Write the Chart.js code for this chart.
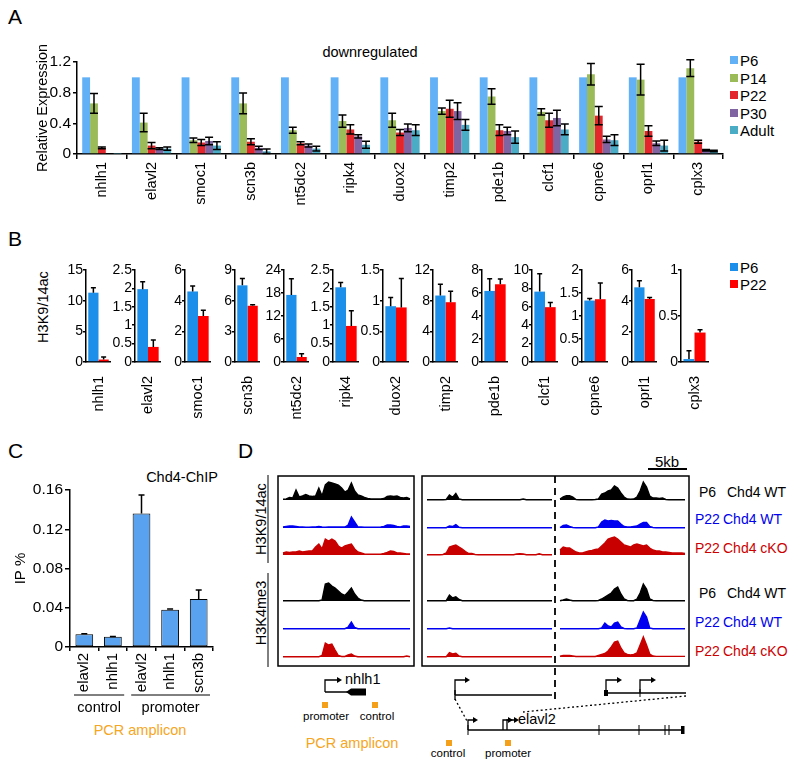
<!DOCTYPE html>
<html><head><meta charset="utf-8">
<script src="https://cdn.jsdelivr.net/npm/chart.js@4.4.1/dist/chart.umd.min.js"></script>
<style>
html,body{margin:0;padding:0;background:#fff;}
#fig{position:relative;width:800px;height:766px;overflow:hidden;font-family:"Liberation Sans",Arial,sans-serif;color:#000;background:#fff;}
#fig canvas{position:absolute;}
.t{position:absolute;white-space:nowrap;line-height:1;}
.sq{position:absolute;width:8px;height:8px;}
</style></head><body><div id="fig"></div>
<script>
// ================= DATA =================
// Panel A: relative expression (qPCR), mean and error
const genes = ['nhlh1','elavl2','smoc1','scn3b','nt5dc2','ripk4','duox2','timp2','pde1b','clcf1','cpne6','oprl1','cplx3'];
const stagesA = ['P6','P14','P22','P30','Adult'];
const exprP6    = [1,1,1,1,1,1,1,1,1,1,1,1,1];
const exprP14   = [0.66,0.41,0.18,0.66,0.31,0.43,0.44,0.56,0.75,0.55,1.04,0.97,1.12];
const exprP22   = [0.08,0.11,0.15,0.16,0.14,0.32,0.28,0.59,0.31,0.44,0.50,0.30,0.16];
const exprP30   = [0.01,0.07,0.17,0.08,0.11,0.23,0.34,0.56,0.30,0.47,0.19,0.14,0.05];
const exprAdult = [0.005,0.07,0.11,0.035,0.07,0.12,0.31,0.38,0.22,0.32,0.18,0.11,0.04];
const errP6     = [0,0,0,0,0,0,0,0,0,0,0,0,0];
const errP14    = [0.13,0.12,0.03,0.135,0.04,0.08,0.09,0.04,0.10,0.04,0.14,0.20,0.11];
const errP22    = [0.01,0.04,0.04,0.04,0.02,0.06,0.04,0.11,0.07,0.09,0.12,0.07,0.02];
const errP30    = [0,0.01,0.05,0.02,0.02,0.02,0.05,0.11,0.05,0.10,0.04,0.03,0.01];
const errAdult  = [0,0.02,0.05,0.03,0.03,0.045,0.07,0.07,0.08,0.07,0.07,0.07,0.01];
const ticksA    = [0,0.4,0.8,1.2];

// Panel B: H3K9/14ac ChIP, P6 vs P22
const stagesB   = ['P6','P22'];
const acP6      = [11.3,1.98,4.6,7.5,17.5,2.03,0.91,8.67,6.18,7.65,1.336,4.87,0.032];
const acP6Err   = [0.8,0.2,0.36,0.68,4.2,0.13,0.14,1.47,1.07,1.95,0.045,0.43,0.09];
const acP22     = [0.4,0.41,3.0,5.5,1.3,0.98,0.89,7.8,6.76,5.96,1.365,4.11,0.32];
const acP22Err  = [0.4,0.19,0.37,0.1,0.87,0.41,0.47,1.43,0.46,0.5,0.35,0.09,0.03];
const ticksB = [[0,5,10,15],[0,0.5,1,1.5,2,2.5],[0,2,4,6],[0,3,6,9],[0,6,12,18,24],[0,0.5,1,1.5,2,2.5],
                [0,0.5,1,1.5],[0,4,8,12],[0,2,4,6,8],[0,2,4,6,8,10],[0,0.5,1,1.5,2],[0,2,4,6],[0,0.5,1]];

// Panel C: Chd4 ChIP
const chipLabels = ['elavl2','nhlh1','elavl2','nhlh1','scn3b'];
const chipValues = [0.013,0.0105,0.136,0.038,0.049];
const chipErr    = [0.0006,0.0003,0.019,0.0008,0.009];
const chipGroups = ['control','promoter'];
const chipGroupSizes = [2,3];
const ticksC = [0,0.04,0.08,0.12,0.16];

// Panel D: browser track heights (40 bins per region)
const trackSamples = ['P6 Chd4 WT','P22 Chd4 WT','P22 Chd4 cKO'];
const trackMarks = ['H3K9/14ac','H3K4me3'];
const acP6_nhlh1   = [0.7,1,2.5,2,10,3,4,5.5,4,3.5,4,12,4,15,18,17,16,15,12,8,10,17,9,5,4,2.5,1.5,1,1,1,1,1.5,3.5,4,3.5,4,2.5,2,2.5,1];
const acWT_nhlh1   = [1,1.5,2,2,1.5,1,1,0.7,0.7,1,1,1.5,1,0.7,1,1,1,1,1,1,3,11,6,1,1,0.7,0.7,0.7,0.7,0.7,1,1.5,3,3,2.5,1.5,1,2,2,1.5];
const acKO_nhlh1   = [2,3,2.5,3,3,4,3,3.5,4,4,8,11,6,16,14,16,14,9,7,9,10,11,6,3,2,1,0.7,0.7,0.7,0.7,0.7,1.5,2.5,4,3.5,2,2,1.5,1,1];
const meP6_nhlh1   = [0.3,0.3,0.3,0.3,0.3,0.3,0.3,0.3,0.3,0.3,0.3,0.3,1,17,18,15,13,10,7,5.5,9,13,7,3,1,0.3,0.3,0.3,0.3,0.3,0.3,0.3,0.3,0.3,0.3,0.3,0.3,0.3,0.3,0.3];
const meWT_nhlh1   = [0.3,0.3,0.3,0.3,0.3,0.3,0.3,0.3,0.3,0.3,0.3,0.3,0.3,0.3,0.3,0.3,0.3,0.3,0.3,0.3,2,7,1.5,0.3,0.3,0.3,0.3,0.3,0.3,0.3,0.3,0.3,0.3,0.3,0.3,0.3,0.3,0.3,0.3,0.3];
const meKO_nhlh1   = [0.3,0.3,0.3,0.3,0.3,0.3,0.3,0.3,0.3,0.3,0.3,0.3,1.5,14,12,13,7,1.5,0.5,0.5,2,3,1,0.3,0.3,0.3,0.3,0.3,0.3,0.3,0.3,0.3,0.3,0.3,0.3,0.3,0.3,0.3,1,0.3];
const acP6_elavl2A = [0.3,0.3,0.3,0.3,0.3,0.3,0.5,5,2.7,6.5,1,0.3,0.3,0.3,0.3,0.3,0.3,0.3,0.3,0.3,0.3,0.3,0.3,0.3,0.3,0.3,0.3,0.3,0.3,0.3,1,0.3,0.3,0.3,0.3,0.3,0.3,0.3,0.3,0.3];
const acWT_elavl2A = [0.3,0.3,0.3,0.3,0.3,0.3,0.3,2,1.5,3.5,0.7,0.3,0.3,0.3,0.3,0.3,0.3,0.3,0.3,0.3,0.3,0.3,0.3,0.3,0.3,0.3,0.3,0.3,0.3,0.3,0.3,0.3,0.3,0.3,0.3,0.3,0.3,0.3,0.3,0.3];
const acKO_elavl2A = [0.3,0.3,0.3,0.3,0.3,0.5,2,8,9,10,8,6,3.5,1.5,1.5,0.5,0.3,0.3,0.3,0.3,0.3,0.3,0.3,0.3,0.3,0.3,0.3,0.3,1,1.3,1,0.3,0.3,0.3,0.3,1.2,0.3,0.3,0.3,0.3];
const meP6_elavl2A = [0.3,0.3,0.3,0.3,0.3,0.3,0.3,6,3,4.3,1.5,0.3,0.3,0.3,0.3,0.3,0.3,0.3,0.3,0.3,0.3,0.3,0.3,0.3,0.3,0.3,0.3,0.3,0.3,0.3,0.3,0.3,0.3,0.3,0.3,0.3,0.3,0.3,0.3,0.3];
const meWT_elavl2A = [0.3,0.3,0.3,0.3,0.3,0.3,0.3,1,0.3,0.3,0.3,0.3,0.3,0.3,0.3,0.3,0.3,0.3,0.3,0.3,0.3,0.3,0.3,0.3,0.3,0.3,0.3,0.3,0.3,0.3,0.3,0.3,0.3,0.3,0.3,0.3,0.3,0.3,0.3,0.3];
const meKO_elavl2A = [0.3,0.3,0.3,0.3,0.3,0.3,0.3,4.3,3,3.7,1,0.3,0.3,0.3,0.3,0.3,0.3,0.3,0.3,0.3,0.3,0.3,0.3,0.3,0.3,0.3,0.3,0.3,0.3,0.3,0.3,0.3,0.3,0.3,0.3,0.3,0.3,0.3,0.3,0.3];
const acP6_elavl2B = [1,3,4.3,4.3,3,0.5,0.3,0.3,0.3,0.3,0.3,0.5,1,6,7,9,10,14,12,7,3,1,0.7,1,3,9,18,13,4,2,2,1.5,2,0.5,0.3,0.3,0.3,0.3,0.3,0.3];
const acWT_elavl2B = [0.5,2.5,3,1.5,0.5,0.3,0.3,0.3,0.3,0.3,0.3,0.3,1,6,8,7,7.5,7,7,4,1.5,1,1,1.5,2,4,5.5,5.5,1.5,0.5,0.3,0.3,0.3,0.3,0.3,0.3,0.3,0.3,0.3,0.3];
const acKO_elavl2B = [5,8,7,7,5,3,2,2,3,4,4.5,5.5,6,9,12,16,17,18,16,13,10,9,8,10,11,10,9,10,7,5,4,4,3,3,2.5,2,2,2,2,1.5];
const meP6_elavl2B = [0.3,1,2,1,0.3,0.3,0.3,0.3,0.3,0.3,0.3,0.3,0.5,2,4,6,8,12,14,7,2,0.5,0.3,0.3,2,8,17,12,2,0.5,0.3,0.3,0.3,0.3,0.3,0.3,0.3,0.3,0.3,0.3];
const meWT_elavl2B = [0.3,0.3,0.3,0.3,0.3,0.3,0.3,0.3,0.3,0.3,0.3,0.3,0.3,1,6,3,2,6,7,2,0.5,0.3,0.3,0.3,1,9,17,12,1,0.3,0.3,0.3,0.3,0.3,0.3,0.3,0.3,0.3,0.3,0.3];
const meKO_elavl2B = [0.7,1.5,1.5,1.5,1,0.5,0.5,0.5,0.5,0.5,0.5,0.5,1.5,2.5,3.5,6,10,15,16,9,4,2.5,2,2.5,4,12,20,12,3,1,0.6,0.6,0.6,0.6,0.6,0.6,0.6,0.6,0.6,0.6];

// ================= HELPERS =================
const FONT = '"Liberation Sans", Arial, sans-serif';
Chart.defaults.font.family = FONT;
Chart.defaults.color = '#000';
const fig = document.getElementById('fig');
function makeCanvas(left, top, w, h){
  const c = document.createElement('canvas');
  c.width = w; c.height = h;
  c.style.left = left+'px'; c.style.top = top+'px';
  c.style.width = w+'px'; c.style.height = h+'px';
  fig.appendChild(c); return c;
}
function text(str, x, y, o){
  o = o || {};
  const d = document.createElement('div'); d.className = 't'; d.textContent = str;
  d.style.fontSize = (o.size||14.5)+'px'; d.style.color = o.color||'#000';
  d.style.left = x+'px'; d.style.top = y+'px';
  let tr = o.anchor==='left' ? 'translate(0,-50%)' : (o.anchor==='right' ? 'translate(-100%,-50%)' : 'translate(-50%,-50%)');
  if (o.rotate) tr += ' rotate(-90deg)';
  d.style.transform = tr;
  fig.appendChild(d); return d;
}
function legend(names, colors, x, y0, dy){
  names.forEach((n,i)=>{
    const s = document.createElement('div'); s.className='sq';
    s.style.left = x+'px'; s.style.top = (y0+i*dy-4)+'px'; s.style.background = colors[i];
    fig.appendChild(s);
    text(n, x+10, y0+i*dy, {anchor:'left', size:15});
  });
}
const errorBars = {
  id:'errorBars',
  afterDatasetsDraw(chart, args, o){
    const ctx = chart.ctx, ys = chart.scales.y;
    ctx.save(); ctx.strokeStyle = '#000'; ctx.lineWidth = o.width||1.5;
    chart.data.datasets.forEach((ds,di)=>{
      if(!ds.errors) return;
      chart.getDatasetMeta(di).data.forEach((bar,i)=>{
        const e = ds.errors[i]; if(!e) return;
        const v = ds.data[i];
        const top = ys.getPixelForValue(v+e);
        const bot = o.oneSided ? bar.y : ys.getPixelForValue(Math.max(v-e,0));
        const c = o.cap||4;
        ctx.beginPath();
        ctx.moveTo(bar.x, top); ctx.lineTo(bar.x, bot);
        ctx.moveTo(bar.x-c, top); ctx.lineTo(bar.x+c, top);
        if(!o.oneSided){ ctx.moveTo(bar.x-c, bot); ctx.lineTo(bar.x+c, bot); }
        ctx.stroke();
      });
    });
    ctx.restore();
  }
};
const plainLabel = v => String(+(+v).toFixed(6));
const setTicks = arr => (s => { s.ticks = arr.map(v=>({value:v})); });
const axisBorder = {color:'#000', width:1.5};
const baseOpts = {responsive:false, animation:false, devicePixelRatio:1, events:[]};
const fixX = h => (s => { s.height = h; s.paddingLeft = 0; s.paddingRight = 0; });

// ================= PANEL A =================
text('A', 8, 16, {anchor:'left', size:21});
text('downregulated', 370, 52, {size:14.5});
const colorsA = ['#62b0f6','#9bbb59','#e3262b','#8064a2','#4bacc6'];
const seriesA = [exprP6, exprP14, exprP22, exprP30, exprAdult];
const errorsA = [errP6, errP14, errP22, errP30, errAdult];
new Chart(makeCanvas(20, 35, 710, 185), {
  type:'bar',
  data:{labels:genes, datasets: stagesA.map((n,k)=>({label:n, data:seriesA[k], errors:errorsA[k],
    backgroundColor:colorsA[k], categoryPercentage:0.79, barPercentage:1}))},
  options:Object.assign({}, baseOpts, {
    layout:{padding:{top:27, right:7, left:0, bottom:0}},
    plugins:{legend:{display:false}, tooltip:{enabled:false}, errorBars:{cap:4, width:1.5}},
    scales:{
      x:{grid:{drawOnChartArea:false, offset:true, tickLength:5, color:'#000', lineWidth:1.5},
         border:axisBorder,
         ticks:{autoSkip:false, minRotation:90, maxRotation:90, padding:3, font:{size:14.5}},
         afterFit:fixX(66)},
      y:{min:0, max:1.2, afterBuildTicks:setTicks(ticksA),
         grid:{drawOnChartArea:false, tickLength:4, color:'#000', lineWidth:1.5},
         border:axisBorder, ticks:{autoSkip:false, padding:2, font:{size:15.5}, callback:plainLabel},
         title:{display:true, text:'Relative Expression', font:{size:14.5}, padding:{top:14, bottom:0}},
         afterFit:s=>{s.width=57;}}
    }
  }),
  plugins:[errorBars]
});
legend(stagesA, colorsA, 730, 60, 17.5);

// ================= PANEL B =================
text('B', 8, 238, {anchor:'left', size:21});
text('H3K9/14ac', 43, 307, {rotate:true, size:14.5});
const colorsB = ['#1b8fe9','#ff0000'];
const bAxisX = [86,135,185,235,284,333,383,433,482,532,582,632,681];
const B_YW = 24, B_PLOT = 27, B_TOP = 255;
genes.forEach((g,i)=>{
  const ax = bAxisX[i];
  const t = ticksB[i];
  const w = i < genes.length-1 ? bAxisX[i+1]-ax : B_YW+B_PLOT+3;
  const left = ax-B_YW;
  new Chart(makeCanvas(left, B_TOP, w, 165), {
    type:'bar',
    data:{labels:[g], datasets:[
      {label:stagesB[0], data:[acP6[i]], errors:[acP6Err[i]], backgroundColor:colorsB[0], categoryPercentage:0.82, barPercentage:1},
      {label:stagesB[1], data:[acP22[i]], errors:[acP22Err[i]], backgroundColor:colorsB[1], categoryPercentage:0.82, barPercentage:1}]},
    options:Object.assign({}, baseOpts, {
      layout:{padding:{top:15, right:w-B_YW-B_PLOT, left:0, bottom:0}},
      plugins:{legend:{display:false}, tooltip:{enabled:false}, errorBars:{oneSided:true, cap:2.5, width:1.5}},
      scales:{
        x:{grid:{display:false}, border:axisBorder,
           ticks:{autoSkip:false, minRotation:90, maxRotation:90, padding:6, font:{size:14.5}},
           afterFit:fixX(58)},
        y:{min:t[0], max:t[t.length-1], afterBuildTicks:setTicks(t),
           grid:{drawOnChartArea:false, tickLength:3, color:'#000', lineWidth:1.5},
           border:axisBorder,
           ticks:{autoSkip:false, padding:0, font:{size:14}, callback:plainLabel},
           afterFit:s=>{s.width=B_YW;}}
      }
    }),
    plugins:[errorBars]
  });
});
legend(stagesB, colorsB, 730, 267, 17);

// ================= PANEL C =================
text('C', 8, 450, {anchor:'left', size:21});
text('Chd4-ChIP', 182, 477, {size:14.5});
text('PCR amplicon', 140, 730, {size:14.5, color:'#f5a623'});
const groupLines = {
  id:'groupLines',
  afterDraw(chart){
    const ctx = chart.ctx, xs = chart.scales.x, w = xs.width/chipLabels.length;
    const yl = chart.chartArea.bottom + 48, yt = chart.chartArea.bottom + 61;
    ctx.save(); ctx.strokeStyle='#000'; ctx.lineWidth=1; ctx.fillStyle='#000';
    ctx.font = '14.5px '+FONT; ctx.textAlign='center'; ctx.textBaseline='middle';
    let idx = 0;
    chipGroups.forEach((g,k)=>{
      const a = xs.getPixelForValue(idx) - w/2 + 4;
      const b = xs.getPixelForValue(idx + chipGroupSizes[k]-1) + w/2 - 3;
      ctx.beginPath(); ctx.moveTo(a, yl); ctx.lineTo(b, yl); ctx.stroke();
      ctx.fillText(g, (a+b)/2, yt);
      idx += chipGroupSizes[k];
    });
    ctx.restore();
  }
};
new Chart(makeCanvas(0, 470, 225, 275), {
  type:'bar',
  data:{labels:chipLabels, datasets:[{label:'IP %', data:chipValues, errors:chipErr,
    backgroundColor:'#58a2ef', borderColor:'#000', borderWidth:1, borderSkipped:false,
    categoryPercentage:0.62, barPercentage:1}]},
  options:Object.assign({}, baseOpts, {
    layout:{padding:{top:20, right:12, left:0, bottom:0}},
    plugins:{legend:{display:false}, tooltip:{enabled:false}, errorBars:{oneSided:true, cap:3, width:1.5}},
    scales:{
      x:{grid:{drawOnChartArea:false, offset:true, tickLength:4, color:'#000', lineWidth:1.5},
         border:axisBorder,
         ticks:{autoSkip:false, minRotation:90, maxRotation:90, padding:2, font:{size:15}},
         afterFit:fixX(98)},
      y:{min:0, max:0.16, afterBuildTicks:setTicks(ticksC),
         grid:{drawOnChartArea:false, tickLength:5, color:'#000', lineWidth:1.5},
         border:axisBorder, ticks:{autoSkip:false, padding:2, font:{size:15.5}, callback:plainLabel},
         title:{display:true, text:'IP %', font:{size:15}, padding:{top:12, bottom:0}},
         afterFit:s=>{s.width=70;}}
    }
  }),
  plugins:[errorBars, groupLines]
});

// ================= PANEL D =================
text('D', 238, 450, {anchor:'left', size:21});
text('5kb', 667, 461, {size:15});
text(trackMarks[0], 261, 519, {rotate:true, size:14.5});
text(trackMarks[1], 261, 613, {rotate:true, size:14.5});
const trackColors = ['#000000','#0000f0','#c80000'];
const labelColors = ['#000000','#0000ee','#cc0000'];
const labelY = [492, 519, 548, 593, 622, 651];
labelY.forEach((yy,k)=>{
  const s = k%3, parts = trackSamples[s].split(' ');
  const stage = parts[0], rest = parts.slice(1).join(' ');
  text(stage, s===0 ? 699 : 695, yy, {anchor:'left', size:14, color:labelColors[s]});
  text(rest, s===0 ? 727 : 723, yy, {anchor:'left', size:14, color:labelColors[s]});
});
text('nhlh1', 345, 679, {anchor:'left', size:14.5});
text('elavl2', 518, 719, {anchor:'left', size:14.5});
text('promoter', 326, 717, {size:11.5});
text('control', 377, 717, {size:11.5});
text('control', 448, 754, {size:11.5});
text('promoter', 508, 754, {size:11.5});
text('PCR amplicon', 352, 743, {size:14.5, color:'#f5a623'});

const regions = [{x0:283, x1:410}, {x0:427, x1:552}, {x0:560, x1:685}];
const trackSets = [
  [acP6_nhlh1, acP6_elavl2A, acP6_elavl2B],
  [acWT_nhlh1, acWT_elavl2A, acWT_elavl2B],
  [acKO_nhlh1, acKO_elavl2A, acKO_elavl2B],
  [meP6_nhlh1, meP6_elavl2A, meP6_elavl2B],
  [meWT_nhlh1, meWT_elavl2A, meWT_elavl2B],
  [meKO_nhlh1, meKO_elavl2A, meKO_elavl2B]
];
const baselines = [500, 528, 555, 601, 629, 657];
const dDatasets = [];
trackSets.forEach((set,k)=>{
  const col = trackColors[k%3], base = baselines[k];
  set.forEach((vals,r)=>{
    const {x0,x1} = regions[r], step = (x1-x0)/(vals.length-1);
    dDatasets.push({
      label: trackMarks[Math.floor(k/3)]+' '+trackSamples[k%3],
      data: vals.map((h,i)=>({x:x0+i*step, y:base-h})),
      borderColor: col, backgroundColor: col, borderWidth: 1.4,
      pointRadius: 0, tension: 0, fill: {value: base}
    });
  });
});
const schematic = {
  id:'schematic',
  afterDatasetsDraw(chart){
    const ctx = chart.ctx, xs = chart.scales.x, ys = chart.scales.y;
    const X = v => xs.getPixelForValue(v), Y = v => ys.getPixelForValue(v);
    ctx.save(); ctx.strokeStyle='#000'; ctx.fillStyle='#000';
    const line = (pts, w, dash) => {
      ctx.lineWidth = w||1.3; ctx.setLineDash(dash||[]); ctx.beginPath();
      pts.forEach((p,i)=> i ? ctx.lineTo(X(p[0]),Y(p[1])) : ctx.moveTo(X(p[0]),Y(p[1])));
      ctx.stroke(); ctx.setLineDash([]);
    };
    const head = (px,py) => { ctx.beginPath(); ctx.moveTo(X(px)+4,Y(py)); ctx.lineTo(X(px)-1,Y(py)-3); ctx.lineTo(X(px)-1,Y(py)+3); ctx.closePath(); ctx.fill(); };
    const tss = (px,py,top,len) => { line([[px,py],[px,top],[px+len,top]],1.3); head(px+len,top); };
    // boxes
    ctx.lineWidth = 1.5;
    ctx.strokeRect(X(278), Y(476), X(414)-X(278), Y(666)-Y(476));
    ctx.strokeRect(X(422), Y(476), X(689)-X(422), Y(666)-Y(476));
    // side brackets
    line([[268,475],[268,563]],1); line([[268,573],[268,667]],1);
    // scale bar
    line([[648,469],[687,469]],2);
    // break line
    line([[555,476],[555,704]],1.8,[7,5]);
    // nhlh1 gene
    line([[325,692],[366,692]],1.3); tss(325,692,680,13);
    ctx.beginPath(); ctx.moveTo(X(346),Y(692)); ctx.lineTo(X(351),Y(688.5)); ctx.lineTo(X(366),Y(688.5));
    ctx.lineTo(X(366),Y(695.5)); ctx.lineTo(X(351),Y(695.5)); ctx.closePath(); ctx.fill();
    // elavl2 locus (top)
    line([[455,695],[552,695]],1.3); line([[455,690],[455,700]],1.3); tss(455,695,680,11);
    line([[606,693],[686,693]],1.3); ctx.fillRect(X(604),Y(690),4,6);
    tss(606,693,680,12); tss(640,693,680,12); line([[640,689],[640,697]],1);
    // zoom lines
    line([[455,699],[467,721]],1.3,[2,2.5]); line([[686,696],[523,712]],1.3,[2,2.5]);
    // elavl2 gene model
    line([[468,730],[684,730]],1.3);
    tss(468,730,720,6); tss(503,730,720,6); tss(507,730,720,8);
    [468,599,639,665,669].forEach(v=>line([[v,725],[v,735]],1));
    ctx.fillRect(X(681),Y(726),3.5,8);
    // amplicons
    ctx.fillStyle = '#f5a01a';
    [[325,705],[375,705],[449,743],[508,743]].forEach(p=>ctx.fillRect(X(p[0])-3,Y(p[1])-3,6,6));
    ctx.restore();
  }
};
new Chart(makeCanvas(255, 455, 545, 311), {
  type:'line',
  data:{datasets:dDatasets},
  options:Object.assign({}, baseOpts, {
    layout:{padding:0},
    plugins:{legend:{display:false}, tooltip:{enabled:false}},
    scales:{
      x:{type:'linear', min:255, max:800, display:false},
      y:{type:'linear', min:455, max:766, reverse:true, display:false}
    }
  }),
  plugins:[schematic]
});
</script>
</body></html>
